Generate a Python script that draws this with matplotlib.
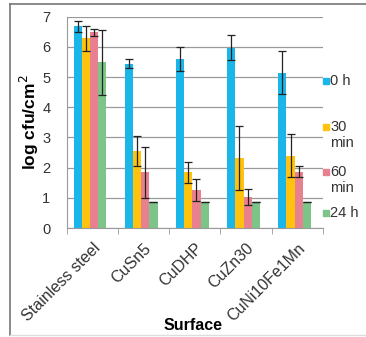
import numpy as np
import matplotlib.pyplot as plt
import matplotlib.transforms as mtransforms
from matplotlib.lines import Line2D

plt.rcParams['font.family'] = ['Liberation Sans', 'DejaVu Sans']

surfaces = ["Stainless steel", "CuSn5", "CuDHP", "CuZn30", "CuNi10Fe1Mn"]
series = ["0 h", "30\nmin", "60\nmin", "24 h"]
colors = ["#1AB6EA", "#FFC20E", "#E8808F", "#7DC489"]

# mean log cfu/cm2 per surface, one list per time point
val_0h = [6.68, 5.45, 5.59, 5.98, 5.15]
val_30 = [6.28, 2.54, 1.84, 2.32, 2.40]
val_60 = [6.48, 1.84, 1.25, 1.03, 1.87]
val_24 = [5.49, 0.85, 0.85, 0.85, 0.85]

err_0h = [0.18, 0.16, 0.40, 0.40, 0.71]
err_30 = [0.42, 0.50, 0.34, 1.05, 0.71]
err_60 = [0.12, 0.83, 0.36, 0.26, 0.17]
err_24 = [1.07, 0.0, 0.0, 0.0, 0.0]

values = [val_0h, val_30, val_60, val_24]
errors = [err_0h, err_30, err_60, err_24]

fig = plt.figure(figsize=(3.66, 3.37), dpi=100)
ax = fig.add_axes([0.183, 0.3234, 0.699, 0.627])

x = np.arange(len(surfaces))
w = 0.16
for i in range(4):
    pos = x - 1.5 * w + i * w - 0.05
    ax.bar(pos, values[i], width=w, color=colors[i], zorder=2)
    ax.errorbar(pos, values[i], yerr=errors[i], fmt="none", ecolor="#222222",
                elinewidth=0.9, capsize=3, capthick=0.9, zorder=3)

ax.set_xlim(-0.5, 4.5)
ax.set_ylim(0, 7)
ax.set_yticks(range(8))
ax.yaxis.grid(True, color="#9a9a9a", linewidth=0.9, zorder=0)
ax.set_axisbelow(True)
ax.tick_params(axis="y", length=0, pad=12, labelsize=10.5, labelcolor="#333333")

ax.set_xticks(x)
ax.set_xticklabels(surfaces, rotation=45, ha="right", rotation_mode="anchor",
                   fontsize=11.5, color="#333333")
shift = mtransforms.ScaledTranslation(8 / 100, -4 / 100, fig.dpi_scale_trans)
for lab in ax.get_xticklabels():
    lab.set_transform(lab.get_transform() + shift)
ax.set_xticks(np.arange(-0.5, 5, 1), minor=True)
ax.tick_params(axis="x", which="major", length=0, pad=9)
ax.tick_params(axis="x", which="minor", length=4, color="#9a9a9a")

for s in ["top", "right"]:
    ax.spines[s].set_visible(False)
ax.spines["left"].set_color("#9a9a9a")
ax.spines["bottom"].set_color("#9a9a9a")

ax.set_ylabel("log cfu/cm$^2$", fontsize=12.5, fontweight="bold", labelpad=1)
fig.text(0.527, 0.034, "Surface", fontsize=11.5, fontweight="bold",
         ha="center", va="center")

# legend drawn by hand so the square sits beside the first line of each label
leg_y = [81, 127, 172, 213]
for c, lab, yy in zip(colors, series, leg_y):
    fy = 1 - yy / 337
    fig.add_artist(Line2D([326 / 366], [fy], marker="s", color=c,
                          markersize=4.2, linestyle="none"))
    fig.text(330 / 366, fy + 7 / 337, lab, fontsize=10.5, color="#333333",
             va="top", ha="left", linespacing=1.15)

# outer frame
fig.add_artist(Line2D([0.028, 0.028], [0.006, 0.988], color="#777777", lw=1.2))
fig.add_artist(Line2D([0.028, 1.0], [0.988, 0.988], color="#777777", lw=1.2))
fig.add_artist(Line2D([0.028, 1.0], [0.006, 0.006], color="#dddddd", lw=1.0))

fig.savefig("out.png", dpi=100)
